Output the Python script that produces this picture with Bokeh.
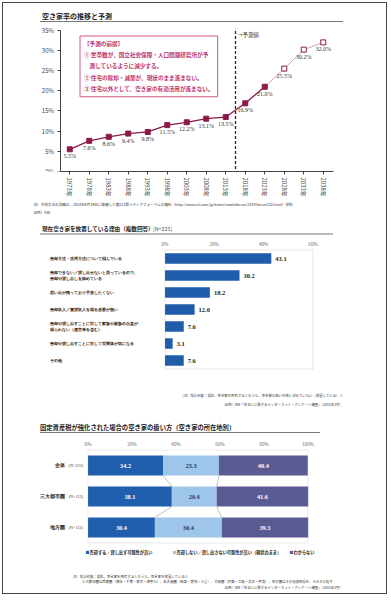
import math
from bokeh.plotting import figure
from bokeh.models import (ColumnDataSource, FactorRange, Range1d, Label, LabelSet, BoxAnnotation,
                          FixedTicker, PrintfTickFormatter, Legend, LegendItem, Title)
from bokeh.layouts import column
from bokeh.embed import file_html
from bokeh.resources import INLINE

JP = "Noto Sans CJK JP"

# ---------------- data ----------------
years = ["1973年", "1978年", "1983年", "1988年", "1993年", "1998年", "2003年",
         "2008年", "2013年", "2018年", "2023年", "2028年", "2033年", "2038年"]
rates = [5.5, 7.6, 8.6, 9.4, 9.8, 11.5, 12.2, 13.1, 13.5, 16.9, 21.0, 25.5, 30.2, 32.0]
rate_labels = ["5.5%", "7.6%", "8.6%", "9.4%", "9.8%", "11.5%", "12.2%", "13.1%",
               "13.5%", "16.9%", "21.0%", "25.5%", "30.2%", "32.0%"]
n_filled = 11                  # solid markers
first_forecast = "2018年"      # dashed divider sits before this year
y1_ticks = [0, 5, 10, 15, 20, 25, 30, 35]

reasons = ["売却方法・活用方法について悩んでいる",
           "売却できない／貸し出せないと思っているので、\n売却や貸し出しを諦めている",
           "思い出が残っており手放したくない",
           "売却収入／賃貸収入を得る必要が無い",
           "売却や貸し出すことに対して家族や親族の合意が\n得られない（遺言等を含む）",
           "売却や貸し出すことに対して世間体が気になる",
           "その他"]
reason_pct = [43.1, 30.2, 18.2, 12.0, 7.6, 3.1, 7.6]
reason_txt = ["43.1", "30.2", "18.2", "12.0", "7.6", "3.1", "7.6"]
x2_ticks = [0, 20, 40, 60]

regions = ["全体", "三大都市圏", "地方圏"]
region_n = ["(N=225)", "(N=113)", "(N=112)"]
sell = [34.2, 38.1, 30.4]
keep = [25.3, 20.4, 30.4]
unknown = [40.4, 41.6, 39.3]
series_names = ["売却する／貸し出す可能性が高い",
                "売却しない／貸し出さない可能性が高い（現状のまま）",
                "わからない"]
x3_ticks = [0, 20, 40, 60, 80, 100]

# ---------------- layout constants (page pixels) ----------------
O = 3.5                      # content origin inside border
W = 383
FL = O + 30                  # common frame left
FR = O + W - 27              # common frame right
H1, H2, H3 = 212, 197, 181
MB1_TOP, MB1_BOT = 8, 38
F1_TOP = O + MB1_TOP
F1_BOT = O + H1 - MB1_BOT
F2_TOP = O + H1 + 9
F2_BOT = O + H1 + H2
F3_TOP = O + H1 + H2 + 9
F3_BOT = O + H1 + H2 + H3


def sx(px):
    return px - FL


def common(p):
    p.xgrid.visible = False
    p.ygrid.visible = False
    p.outline_line_color = None
    p.min_border_left = 30
    p.min_border_right = 27


def note(x, y, text, align="left", size="3.4px"):
    return Label(x=x, y=y, x_units="screen", y_units="screen", text=text, text_font=JP,
                 text_font_size=size, text_color="#333", text_align=align, text_baseline="middle")


def underline(x0, x1, y):
    return BoxAnnotation(left=x0, right=x1, bottom=y - 0.45, top=y + 0.45, left_units="screen",
                         right_units="screen", bottom_units="screen", top_units="screen",
                         fill_color="#777", fill_alpha=1, line_color=None)


# ---------------- chart 1 ----------------
u1 = 19.5
pad1 = ((FR - FL) / u1 - len(years)) / 2
px_per_pct = (F1_BOT - 31) / 35
p1 = figure(width=W, height=H1, output_backend="svg", toolbar_location=None,
            x_range=FactorRange(*years, range_padding=pad1, range_padding_units="absolute"),
            y_range=Range1d(0, (F1_BOT - F1_TOP) / px_per_pct),
            min_border_top=MB1_TOP, min_border_bottom=MB1_BOT)
common(p1)
p1.yaxis.ticker = FixedTicker(ticks=y1_ticks)
p1.yaxis.formatter = PrintfTickFormatter(format="%d%%")
p1.yaxis.fixed_location = 0
p1.yaxis.bounds = (0, y1_ticks[-1])
p1.xaxis.bounds = (0, len(years))
for ax in (p1.xaxis, p1.yaxis):
    ax.axis_line_color = "#444"
    ax.major_tick_line_color = "#444"
    ax.major_tick_out = 3
    ax.major_tick_in = 0
    ax.minor_tick_line_color = None
    ax.major_label_text_font = JP
    ax.major_label_text_font_size = "6px"
    ax.major_label_text_color = "#444"
p1.xaxis.major_label_orientation = -math.pi / 2
p1.xaxis.major_label_standoff = 3
p1.yaxis.major_label_standoff = 3

fc = years.index(first_forecast)
div_src = ColumnDataSource(dict(x=[fc], y0=[-0.6], y1=[y1_ticks[-1] + 0.4]))
p1.segment(x0="x", x1="x", y0="y0", y1="y1", source=div_src, line_color="#222",
           line_width=1.3, line_dash="3 2")

src_f = ColumnDataSource(dict(x=years[:n_filled], y=rates[:n_filled]))
src_tail = ColumnDataSource(dict(x=years[n_filled - 1:], y=rates[n_filled - 1:]))
src_open = ColumnDataSource(dict(x=years[n_filled:], y=rates[n_filled:]))
src_all = ColumnDataSource(dict(x=years, y=rates, lbl=rate_labels))
p1.line("x", "y", source=src_tail, line_color="#c48aa2", line_width=0.8)
p1.line("x", "y", source=src_f, line_color="#8b1a4b", line_width=1.3)
p1.scatter("x", "y", source=src_f, marker="square", size=5, fill_color="#8b1a4b",
           line_color="#8b1a4b")
p1.scatter("x", "y", source=src_open, marker="square", size=5, fill_color="white",
           line_color="#8b1a4b", line_width=1)
p1.add_layout(LabelSet(x="x", y="y", text="lbl", source=src_all, y_offset=-4,
                       text_align="center", text_baseline="top", text_font=JP,
                       text_font_size="6px", text_color="#333"))

p1.add_layout(Label(x=sx(42), y=F1_BOT - 21.5, x_units="screen", y_units="screen",
                    text="空き家率の推移と予測", text_font=JP, text_font_size="7px",
                    text_font_style="bold", text_color="#222", text_baseline="middle"))
p1.add_layout(underline(sx(40), sx(343), F1_BOT - 27.5))
p1.add_layout(Label(x=sx(237), y=F1_BOT - 41, x_units="screen", y_units="screen", text="→予測値",
                    text_font=JP, text_font_size="5.5px", text_color="#333", text_baseline="middle"))
p1.add_layout(Label(x=sx(80), y=F1_BOT - 42, x_units="screen", y_units="screen",
                    text="【予測の前提】\n① 世帯数が、国立社会保障・人口問題研究所が予\n　測しているように減少する。\n② 住宅の除却・減築が、現状のまま進まない。\n③ 住宅以外として、空き家の有効活用が進まない。",
                    text_font=JP, text_font_size="5.6px", text_font_style="bold",
                    text_color="#c0306a", text_line_height=1.4, text_baseline="top",
                    border_line_color="#d0568a", border_line_width=1,
                    background_fill_color="white", padding=4))
for t in ["注）予測方法の詳細は、2014年6月19日に開催した第211回メディアフォーラムの資料（http://www.nri.com/jp/event/mediaforum/2014/forum210.html）参照",
          "出所）NRI"]:
    p1.add_layout(Title(text=t, align="left", offset=0, standoff=1, text_font=JP,
                        text_font_size="3.6px", text_font_style="normal", text_color="#333"),
                  "below")

# ---------------- chart 2 ----------------
r2 = 17.0
u2 = (313 - 165) / x2_ticks[-1]
idx2 = list(range(len(reasons)))
p2 = figure(width=W, height=H2, output_backend="svg", toolbar_location=None,
            x_range=Range1d(-(165 - FL) / u2, x2_ticks[-1] + (FR - 313) / u2),
            y_range=Range1d(len(reasons) - 0.5 + (F2_BOT - 369) / r2, -0.5 - (250 - F2_TOP) / r2),
            x_axis_location="above", min_border_top=9, min_border_bottom=0)
common(p2)
p2.yaxis.visible = False
p2.xaxis.ticker = FixedTicker(ticks=x2_ticks)
p2.xaxis.formatter = PrintfTickFormatter(format="%d%%")
p2.xaxis.fixed_location = -0.5
p2.xaxis.axis_line_color = None
p2.xaxis.major_tick_line_color = None
p2.xaxis.major_tick_out = 0
p2.xaxis.major_tick_in = 0
p2.xaxis.minor_tick_line_color = None
p2.xaxis.major_label_text_font = JP
p2.xaxis.major_label_text_font_size = "4.6px"
p2.xaxis.major_label_text_color = "#666"
p2.xaxis.major_label_standoff = 3

p2.add_layout(BoxAnnotation(left=0, right=x2_ticks[-1], top=-0.5, bottom=len(reasons) - 0.5,
                            fill_alpha=0, line_color="#999", line_width=0.8))
src2 = ColumnDataSource(dict(idx=idx2, cat=reasons, pct=reason_pct, txt=reason_txt))
p2.hbar(y="idx", right="pct", height=0.62, source=src2, fill_color="#1f5dab", line_color=None)
p2.add_layout(LabelSet(x="pct", y="idx", text="txt", source=src2, x_offset=4, text_baseline="middle",
                       text_font=JP, text_font_size="6.5px", text_font_style="bold", text_color="#222"))
p2.add_layout(LabelSet(x=sx(50), x_units="screen", y="idx", text="cat", source=src2,
                       text_align="left", text_baseline="middle", text_font=JP,
                       text_font_size="4.4px", text_font_style="bold", text_color="#222",
                       text_line_height=1.3))
p2.add_layout(Label(x=sx(42), y=F2_BOT - 228.5, x_units="screen", y_units="screen",
                    text="現在空き家を放置している理由（複数回答）",
                    text_font=JP, text_font_size="5.6px", text_font_style="bold", text_color="#222",
                    text_baseline="middle"))
p2.add_layout(Label(x=sx(153), y=F2_BOT - 228.5, x_units="screen", y_units="screen", text="[N=225]",
                    text_font=JP, text_font_size="5.3px", text_color="#555", text_baseline="middle"))
p2.add_layout(underline(sx(40), sx(333), F2_BOT - 234))
p2.add_layout(note(sx(343), F2_BOT - 395,
                   "（注）集計対象：現在、空き家を所有する人のうち、空き家の扱いを特に決めていない（放置している）人",
                   align="right"))
p2.add_layout(note(sx(343), F2_BOT - 404,
                   "出所）NRI「住まいに関するインターネット・アンケート調査」（2015年2月）", align="right"))

# ---------------- chart 3 ----------------
colors3 = ["#1f5fad", "#9ec5ea", "#5b5b94"]
r3 = 31.0
u3 = (308 - 88) / x3_ticks[-1]
idx3 = list(range(len(regions)))
p3 = figure(width=W, height=H3, output_backend="svg", toolbar_location=None,
            x_range=Range1d(-(88 - FL) / u3, x3_ticks[-1] + (FR - 308) / u3),
            y_range=Range1d(len(regions) - 0.5 + (F3_BOT - 543) / r3, -0.5 - (450 - F3_TOP) / r3),
            x_axis_location="above", min_border_top=9, min_border_bottom=0)
common(p3)
p3.yaxis.visible = False
p3.xaxis.ticker = FixedTicker(ticks=x3_ticks)
p3.xaxis.formatter = PrintfTickFormatter(format="%d%%")
p3.xaxis.fixed_location = -0.5
p3.xaxis.axis_line_color = None
p3.xaxis.major_tick_line_color = None
p3.xaxis.major_tick_out = 0
p3.xaxis.major_tick_in = 0
p3.xaxis.minor_tick_line_color = None
p3.xaxis.major_label_text_font = JP
p3.xaxis.major_label_text_font_size = "4.6px"
p3.xaxis.major_label_text_color = "#666"
p3.xaxis.major_label_standoff = 3

p3.add_layout(BoxAnnotation(left=0, right=x3_ticks[-1], top=-0.5, bottom=len(regions) - 0.5,
                            fill_alpha=0, line_color="#aaa", line_width=0.8))
bh = 0.65
b1 = sell
b2 = [s + k for s, k in zip(sell, keep)]
seg = ColumnDataSource(dict(
    x0=b1[:-1] + b2[:-1], x1=b1[1:] + b2[1:],
    y0=[i + bh / 2 for i in idx3[:-1]] * 2,
    y1=[i - bh / 2 for i in idx3[1:]] * 2))
p3.segment(x0="x0", x1="x1", y0="y0", y1="y1", source=seg, line_color="#999", line_width=0.6)

src3 = ColumnDataSource(dict(idx=idx3, region=regions, sell=sell, keep=keep, unknown=unknown,
                             n=region_n,
                             m1=[s / 2 for s in sell],
                             m2=[s + k / 2 for s, k in zip(sell, keep)],
                             m3=[s + k + u / 2 for s, k, u in zip(sell, keep, unknown)],
                             t1=[f"{v:.1f}" for v in sell],
                             t2=[f"{v:.1f}" for v in keep],
                             t3=[f"{v:.1f}" for v in unknown]))
rs = p3.hbar_stack(["sell", "keep", "unknown"], y="idx", height=bh, source=src3,
                   color=colors3, line_color=None)
for mx, tx, tc in (("m1", "t1", "white"), ("m2", "t2", "#1f3a6e"), ("m3", "t3", "white")):
    p3.add_layout(LabelSet(x=mx, y="idx", text=tx, source=src3, text_align="center",
                           text_baseline="middle", text_font=JP, text_font_size="6.3px",
                           text_font_style="bold", text_color=tc))
p3.add_layout(LabelSet(x=sx(83), x_units="screen", y="idx", text="n", source=src3, text_align="right",
                       text_baseline="middle", text_font=JP, text_font_size="4.2px", text_color="#333"))
p3.add_layout(LabelSet(x=sx(65), x_units="screen", y="idx", text="region", source=src3,
                       text_align="right", text_baseline="middle", text_font=JP,
                       text_font_size="5px", text_font_style="bold", text_color="#222"))
for i, lx in enumerate([85, 172, 289]):
    p3.add_layout(Legend(items=[LegendItem(label=series_names[i], renderers=[rs[i]])],
                         location=(sx(lx), F3_BOT - 555.5), orientation="horizontal",
                         glyph_width=4, glyph_height=4, label_text_font=JP,
                         label_text_font_size="4.2px", label_text_font_style="bold",
                         label_text_color="#222", label_standoff=1, spacing=0, padding=0,
                         margin=0, label_height=5, border_line_color=None,
                         background_fill_alpha=0))
p3.add_layout(Label(x=sx(40), y=F3_BOT - 427, x_units="screen", y_units="screen",
                    text="固定資産税が強化された場合の空き家の扱い方（空き家の所在地別）",
                    text_font=JP, text_font_size="6.3px", text_font_style="bold", text_color="#222",
                    text_baseline="middle"))
p3.add_layout(underline(sx(40), sx(320), F3_BOT - 432.5))
p3.add_layout(note(sx(73), F3_BOT - 576,
                   "注）集計対象：現在、空き家を所有する人のうち、空き家を放置している人"))
p3.add_layout(note(sx(82), F3_BOT - 581,
                   "三大都市圏は首都圏（埼玉・千葉・東京・神奈川）、名古屋圏（岐阜・愛知・三重）、大阪圏（京都・大阪・兵庫・奈良）、地方圏はその他道府県を、それぞれ指す"))
p3.add_layout(note(sx(343), F3_BOT - 587,
                   "出所）NRI「住まいに関するインターネット・アンケート調査」（2015年2月）", align="right"))

page = column(p1, p2, p3, styles={"border": "1.5px solid #444", "margin": "2px"})
open("out.html", "w").write(file_html(page, INLINE))
